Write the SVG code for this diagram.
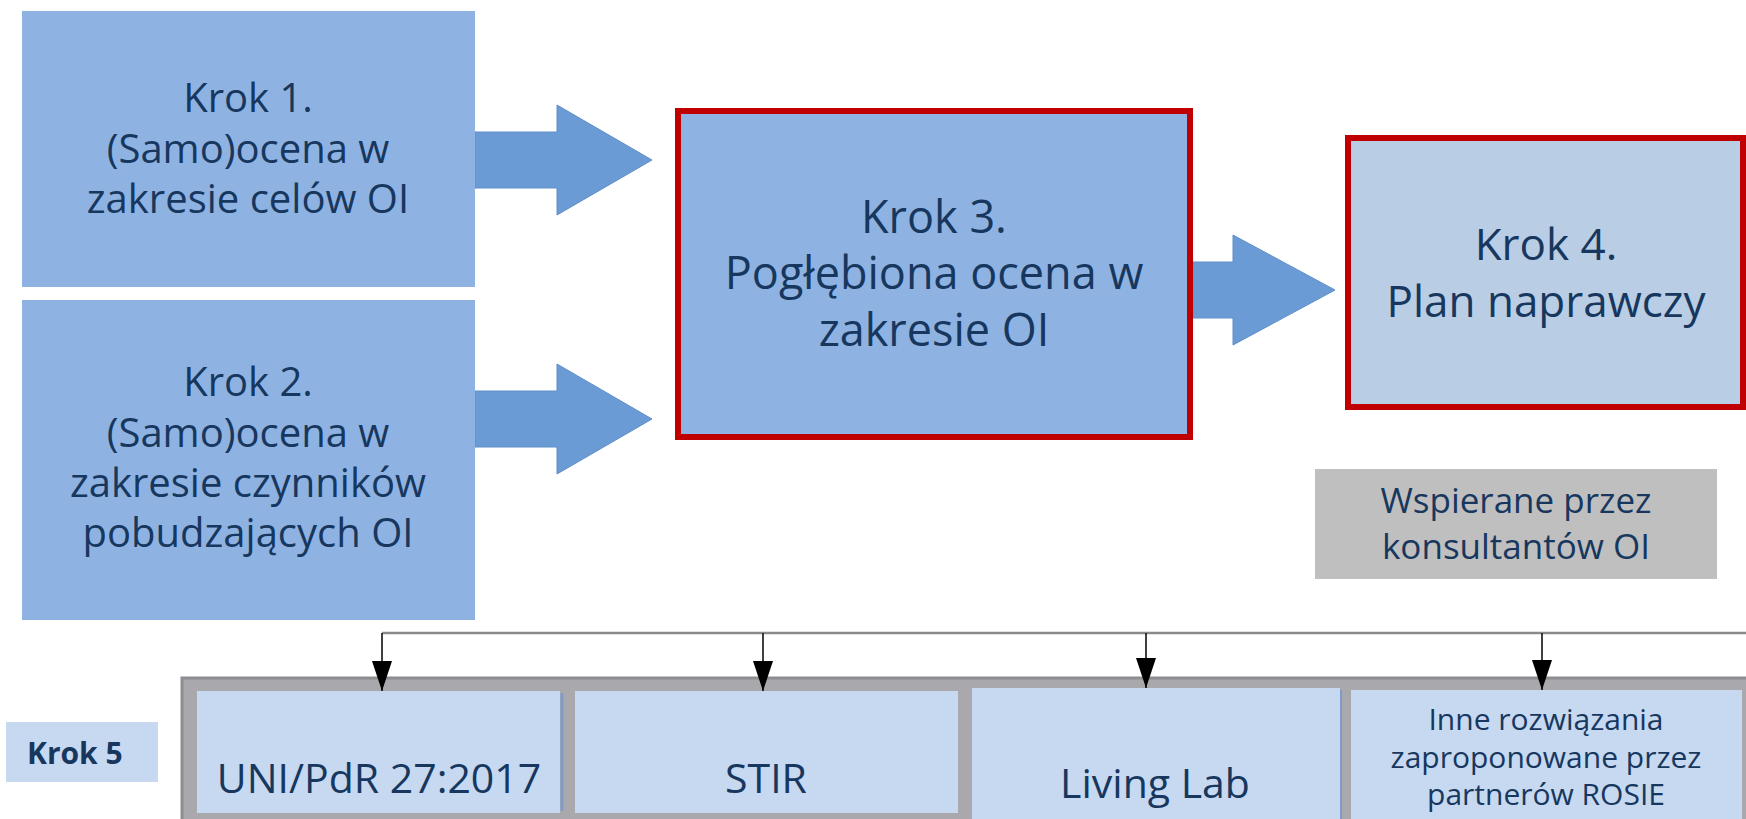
<svg xmlns="http://www.w3.org/2000/svg" width="1746" height="819" viewBox="0 0 1746 819">
<style>
  .box { fill: #8EB3E2; }
  .red { stroke: #C00000; stroke-width: 6; }
  .lite { fill: #B9CDE5; }
  .sub { fill: #C6D9F1; }
  .big { fill: #6B9BD4; stroke: #5F8FCB; stroke-width: 1; }
  .t { font-family: "Open Sans", "DejaVu Sans", sans-serif; fill: #17375E; text-anchor: middle; }
  .conn { stroke: #111; stroke-width: 1.6; fill: none; }
</style>
<defs>
  <marker id="ah" markerUnits="userSpaceOnUse" viewBox="0 0 30 20" markerWidth="30" markerHeight="20" refX="30" refY="10" orient="auto">
    <path d="M0,0 L30,10 L0,20 z" fill="#000"/>
  </marker>
</defs>
<rect width="1746" height="819" fill="#FFFFFF"/>

<g id="arrows-big">
  <polygon class="big" points="475,132 557,132 557,105 652,160 557,215 557,188 475,188"/>
  <polygon class="big" points="475,391 557,391 557,364 652,419 557,474 557,447 475,447"/>
  <polygon class="big" points="1193,262 1233,262 1233,235 1335,290 1233,345 1233,318 1193,318"/>
</g>

<g id="krok1">
  <rect class="box" x="22" y="11" width="453" height="276"/>
  <text class="t" font-size="40"><tspan x="248" y="112">Krok 1.</tspan><tspan x="248" y="163">(Samo)ocena w</tspan><tspan x="248" y="213">zakresie celów OI</tspan></text>
</g>

<g id="krok2">
  <rect class="box" x="22" y="300" width="453" height="320"/>
  <text class="t" font-size="40"><tspan x="248" y="396">Krok 2.</tspan><tspan x="248" y="447">(Samo)ocena w</tspan><tspan x="248" y="497">zakresie czynników</tspan><tspan x="248" y="547">pobudzających OI</tspan></text>
</g>

<g id="krok3">
  <rect class="box red" x="678" y="111" width="512" height="326"/>
  <text class="t" font-size="45"><tspan x="934" y="233">Krok 3.</tspan><tspan x="934" y="289">Pogłębiona ocena w</tspan><tspan x="934" y="346">zakresie OI</tspan></text>
</g>

<g id="krok4">
  <rect class="lite red" x="1348" y="138" width="395" height="269"/>
  <text class="t" font-size="44"><tspan x="1546" y="260">Krok 4.</tspan><tspan x="1546" y="317">Plan naprawczy</tspan></text>
</g>

<g id="wspierane">
  <rect x="1315" y="469" width="402" height="110" fill="#BFBFBF"/>
  <text class="t" font-size="35"><tspan x="1516" y="513">Wspierane przez</tspan><tspan x="1516" y="559">konsultantów OI</tspan></text>
</g>

<g id="krok5-label">
  <rect class="sub" x="6" y="722" width="152" height="60"/>
  <text class="t" font-size="30" font-weight="bold" style="text-anchor:start" x="27" y="764">Krok 5</text>
</g>

<g id="krok5-band">
  <rect x="182" y="678" width="1570" height="150" fill="#A9A9AD" stroke="#8E8E92" stroke-width="3"/>
</g>

<g id="uni">
  <rect class="sub" x="197" y="691" width="363" height="122"/>
  <line x1="562" y1="693" x2="562" y2="811" stroke="#7E9CC8" stroke-width="3"/>
  <text class="t" font-size="41" x="379" y="793">UNI/PdR 27:2017</text>
</g>

<g id="stir">
  <rect class="sub" x="575" y="691" width="383" height="122"/>
  <text class="t" font-size="41" x="766" y="793">STIR</text>
</g>

<g id="livinglab">
  <rect class="sub" x="972" y="688" width="368" height="131"/>
  <line x1="1341" y1="690" x2="1341" y2="819" stroke="#7E9CC8" stroke-width="2"/>
  <text class="t" font-size="41" x="1155" y="798">Living Lab</text>
</g>

<g id="inne">
  <rect class="sub" x="1351" y="690" width="391" height="129"/>
  <text class="t" font-size="30"><tspan x="1546" y="730">Inne rozwiązania</tspan><tspan x="1546" y="768">zaproponowane przez</tspan><tspan x="1546" y="805">partnerów ROSIE</tspan></text>
</g>

<g id="connectors">
  <line x1="382" y1="633" x2="1746" y2="633" stroke="#8A8A8A" stroke-width="2.5"/>
  <line class="conn" x1="382" y1="633" x2="382" y2="691" marker-end="url(#ah)"/>
  <line class="conn" x1="763" y1="633" x2="763" y2="691" marker-end="url(#ah)"/>
  <line class="conn" x1="1146" y1="633" x2="1146" y2="688" marker-end="url(#ah)"/>
  <line class="conn" x1="1542" y1="633" x2="1542" y2="690" marker-end="url(#ah)"/>
</g>
</svg>
